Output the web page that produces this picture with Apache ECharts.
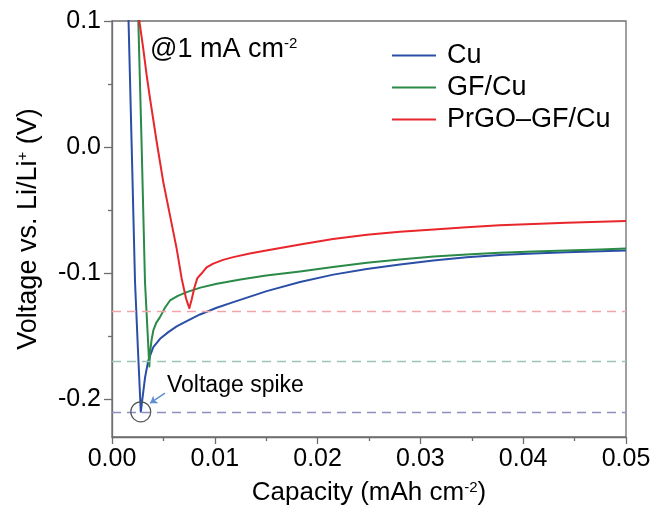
<!DOCTYPE html>
<html>
<head>
<meta charset="utf-8">
<script src="https://cdn.jsdelivr.net/npm/echarts@6/dist/echarts.min.js"></script>
<style>
  html, body { margin: 0; padding: 0; background: #fff; }
  #chart { width: 659px; height: 519px; }
</style>
</head>
<body>
<div id="chart"></div>
<script>
// Galvanostatic Li nucleation curves at 1 mA cm^-2
const seriesNames = ['Cu', 'GF/Cu', 'PrGO\u2013GF/Cu'];

const cuCapacity = [0.00150, 0.00161, 0.00192, 0.00224, 0.00252, 0.00280, 0.00322, 0.00353, 0.00402, 0.00467, 0.00548, 0.00629, 0.00727, 0.00856, 0.01018, 0.01180, 0.01505, 0.01829, 0.02153, 0.02478, 0.02802, 0.03126, 0.03450, 0.03774, 0.04100, 0.04423, 0.04750, 0.05000];
const cuVoltage  = [0.115, 0.100, -0.001, -0.107, -0.160, -0.210, -0.1825, -0.1693, -0.1587, -0.1521, -0.1468, -0.1423, -0.1381, -0.1328, -0.1275, -0.1230, -0.1143, -0.1070, -0.1012, -0.0968, -0.0931, -0.0899, -0.0875, -0.0856, -0.0844, -0.0834, -0.0826, -0.0820];

const gfCapacity = [0.00252, 0.00256, 0.00289, 0.00321, 0.00345, 0.00363, 0.00370, 0.00385, 0.00402, 0.00430, 0.00467, 0.00515, 0.00564, 0.00640, 0.00727, 0.00860, 0.01020, 0.01250, 0.01500, 0.01830, 0.02150, 0.02480, 0.02800, 0.03130, 0.03450, 0.03770, 0.04100, 0.04420, 0.04750, 0.05000];
const gfVoltage  = [0.115, 0.100, -0.001, -0.107, -0.145, -0.174, -0.163, -0.153, -0.1455, -0.1395, -0.1349, -0.1275, -0.1217, -0.1180, -0.1151, -0.1115, -0.1084, -0.1050, -0.1018, -0.0987, -0.0952, -0.0918, -0.0892, -0.0868, -0.0852, -0.0838, -0.0828, -0.0820, -0.0812, -0.0805];

const prgoCapacity = [0.00260, 0.00266, 0.00304, 0.00337, 0.00370, 0.00435, 0.00499, 0.00564, 0.00629, 0.00678, 0.00720, 0.00752, 0.00775, 0.00800, 0.00830, 0.00880, 0.00920, 0.00985, 0.01080, 0.01180, 0.01340, 0.01500, 0.01830, 0.02150, 0.02480, 0.02800, 0.03130, 0.03450, 0.03770, 0.04100, 0.04420, 0.04750, 0.05000];
const prgoVoltage  = [0.108, 0.100, 0.078, 0.057, 0.0384, 0.004, -0.0278, -0.0542, -0.0806, -0.1044, -0.1200, -0.1278, -0.1210, -0.1120, -0.1040, -0.0995, -0.0955, -0.0925, -0.0895, -0.0873, -0.0845, -0.0820, -0.0773, -0.0730, -0.0695, -0.0672, -0.0653, -0.0636, -0.0621, -0.0610, -0.0600, -0.0592, -0.0587];

const yTicks = [-0.2, -0.1, 0.0, 0.1];
const yMinorTicks = [-0.15, -0.05, 0.05];

// arrow pointing at the nucleation spike of bare Cu
const spikeArrow = [[0.00516, -0.1952], [0.00370, -0.2032]];

const lineColors = ['#2b4ea6', '#2a8a47', '#e8262b'];
const dashColors = ['#8e8ec0', '#9dc4b2', '#f2a4a8'];

const FONT = '"Liberation Sans", Arial, Helvetica, sans-serif';
const AXIS_GRAY = '#6e6e6e';

function pairs(xs, ys) { return xs.map((x, i) => [x, ys[i]]); }

const curves = [pairs(cuCapacity, cuVoltage), pairs(gfCapacity, gfVoltage), pairs(prgoCapacity, prgoVoltage)];

const series = curves.map((data, i) => {
  const s = {
    name: seriesNames[i],
    type: 'line',
    data: data,
    symbol: 'none',
    smooth: false,
    clip: true,
    lineStyle: { color: lineColors[i], width: 2, join: 'round' },
    itemStyle: { color: lineColors[i] },
    z: 3 + i,
    markLine: {
      silent: true,
      symbol: 'none',
      label: { show: false },
      lineStyle: { color: dashColors[i], type: [9, 6], width: 1.3 },
      data: [{ type: 'min', valueIndex: 1 }]
    }
  };
  if (i === 0) {
    s.markPoint = {
      silent: true,
      symbol: 'circle',
      symbolSize: 20,
      label: { show: false },
      itemStyle: { color: 'rgba(0,0,0,0)', borderColor: '#555', borderWidth: 1.2 },
      data: [{ type: 'min', valueIndex: 1 }]
    };
    s.markLine.data.push([
      { coord: spikeArrow[0], symbol: 'none', lineStyle: { color: '#5d8fd2', type: 'solid', width: 1.5 } },
      { coord: spikeArrow[1], symbol: 'arrow', symbolSize: 7 }
    ]);
  }
  return s;
});

const chart = echarts.init(document.getElementById('chart'), null, { renderer: 'canvas' });

const supRich = { sup: { fontFamily: FONT, fontSize: 15, verticalAlign: 'top', lineHeight: 15, color: '#000' } };

chart.setOption({
  animation: false,
  backgroundColor: '#fff',
  textStyle: { fontFamily: FONT, color: '#000' },
  grid: {
    left: 112, right: 33, top: 21, bottom: 82,
    show: true, borderColor: AXIS_GRAY, borderWidth: 1.3, backgroundColor: 'transparent'
  },
  legend: {
    orient: 'vertical',
    left: 392, top: 42,
    padding: 0,
    icon: 'path://M0,0 H44 V2 H0 Z',
    itemWidth: 44, itemHeight: 2,
    itemGap: 5,
    textStyle: { fontFamily: FONT, fontSize: 27, color: '#000', lineHeight: 27, padding: [0, 0, 0, 6] },
    data: seriesNames
  },
  xAxis: {
    type: 'value',
    min: 0, max: 0.05, interval: 0.01,
    name: 'Capacity (mAh cm{sup|-2})',
    nameLocation: 'middle',
    nameGap: 43,
    nameTextStyle: { fontFamily: FONT, fontSize: 26, color: '#000', rich: supRich },
    axisLine: { onZero: false, lineStyle: { color: AXIS_GRAY, width: 1.3 } },
    axisTick: { show: true, inside: false, length: 7, lineStyle: { color: AXIS_GRAY, width: 1.3 } },
    minorTick: { show: true, splitNumber: 2, length: 4, lineStyle: { color: AXIS_GRAY, width: 1.3 } },
    axisLabel: { fontFamily: FONT, fontSize: 25, color: '#000', margin: 10, formatter: v => v.toFixed(2) },
    splitLine: { show: false }
  },
  yAxis: [{
    type: 'value',
    min: -0.23, max: 0.1,
    name: 'Voltage vs. Li/Li{sup|+} (V)',
    nameLocation: 'middle',
    nameGap: 70,
    nameTextStyle: { fontFamily: FONT, fontSize: 27, color: '#000', rich: supRich },
    axisLine: { show: true, onZero: false, lineStyle: { color: AXIS_GRAY, width: 1.3 } },
    axisTick: { show: true, length: 8, customValues: yTicks, lineStyle: { color: AXIS_GRAY, width: 1.3 } },
    axisLabel: { fontFamily: FONT, fontSize: 25, color: '#000', margin: 11, customValues: yTicks, formatter: v => v.toFixed(1) },
    splitLine: { show: false }
  }, {
    type: 'value',
    position: 'left',
    min: -0.23, max: 0.1,
    axisLine: { show: false, onZero: false },
    axisTick: { show: true, length: 4, customValues: yMinorTicks, lineStyle: { color: AXIS_GRAY, width: 1.3 } },
    axisLabel: { show: false, customValues: yMinorTicks },
    splitLine: { show: false }
  }],
  graphic: [{
    type: 'text',
    left: 150, top: 36,
    style: {
      text: '@1 mA cm{sup|-2}',
      font: '27px ' + FONT,
      fill: '#000',
      rich: { sup: { fontSize: 15, fontFamily: FONT, verticalAlign: 'top', lineHeight: 15, fill: '#000' } }
    }
  }, {
    type: 'text',
    left: 167, top: 374,
    style: { text: 'Voltage spike', font: '23px ' + FONT, fill: '#000' }
  }],
  series: series
});
</script>
</body>
</html>
